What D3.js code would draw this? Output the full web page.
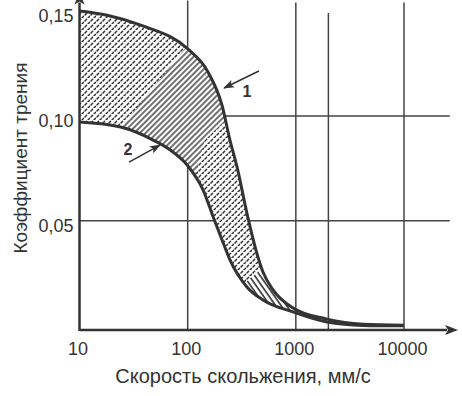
<!DOCTYPE html>
<html>
<head>
<meta charset="utf-8">
<script src="https://cdn.jsdelivr.net/npm/d3@7"></script>
<style>
  body { margin: 0; background: #fff; }
  text { font-family: "Liberation Sans", Arial, sans-serif; fill: #333; }
</style>
</head>
<body>
<div id="chart"></div>
<script>
// values
var speedTicks = [10, 100, 1000, 10000];
var coefTicks = [0.05, 0.10, 0.15];
var gridSpeeds = [100, 1000, 2000, 10000];
var gridTops = [0.155, 0.154, 0.149, 0.154];
var gridCoefs = [0.05, 0.10];

// curve 1 (upper)
var curve1Speed = [10, 18, 38, 100, 154, 208, 246, 286, 361, 428, 497, 615, 942, 1940, 4180, 10000];
var curve1Coef = [0.150, 0.148, 0.143, 0.132, 0.121, 0.105, 0.0885, 0.0757, 0.0514, 0.0361, 0.0256, 0.0171, 0.0085, 0.0032, 0.0008, 0.0003];
// curve 2 (lower)
var curve2Speed = [10, 24, 48, 69, 99, 139, 175, 208, 246, 353, 497, 942, 1940, 4180, 10000];
var curve2Coef = [0.0971, 0.0947, 0.0885, 0.0838, 0.0766, 0.0647, 0.0509, 0.0409, 0.0314, 0.0185, 0.0123, 0.0066, 0.0018, 0.0002, 0.0];

// hatched zones inside the band
var hatchASpeed = [21.3, 130, 339, 257, 145, 117];
var hatchACoef = [0.0909, 0.141, 0.1267, 0.1004, 0.0885, 0.0719];
var hatchBSpeed = [290, 560, 1672, 2070, 290];
var hatchBCoef = [0.0175, 0.0300, 0.0123, -0.004, -0.004];

// labels / arrows
var labels = ["1", "2"];
var labelSpeed = [353, 28];
var labelCoef = [0.109, 0.0814];
var arrowFromSpeed = [456, 28.7];
var arrowFromCoef = [0.1214, 0.078];
var arrowToSpeed = [217, 55.5];
var arrowToCoef = [0.1133, 0.0861];

var svgWidth = 462, svgHeight = 396;
var ink = "#333";

var svg = d3.select("#chart").append("svg")
    .attr("width", svgWidth)
    .attr("height", svgHeight);

var x = d3.scaleLog().domain([10, 10000]).range([79.5, 404]);
var y = d3.scaleLinear().domain([-0.002, 0.15]).range([330, 11]);

var c1 = curve1Speed.map((s, i) => ({ s: s, c: curve1Coef[i] }));
var c2 = curve2Speed.map((s, i) => ({ s: s, c: curve2Coef[i] }));

var defs = svg.append("defs");

// dotted fill
var dots = defs.append("pattern").attr("id", "dots")
    .attr("patternUnits", "userSpaceOnUse")
    .attr("width", 6).attr("height", 6);
dots.append("path").attr("d", "M1,3 L2.6,1.3 M4,6 L5.6,4.3")
    .attr("stroke", "#333").attr("stroke-width", 1.5).attr("stroke-linecap", "round");

// "/" hatch
var hatch = defs.append("pattern").attr("id", "hatch")
    .attr("patternUnits", "userSpaceOnUse")
    .attr("width", 4).attr("height", 10)
    .attr("patternTransform", "rotate(45)");
hatch.append("rect").attr("width", 4).attr("height", 10).attr("fill", "#fff");
hatch.append("line").attr("x1", 1).attr("y1", 0).attr("x2", 1).attr("y2", 10)
    .attr("stroke", "#333").attr("stroke-width", 1.4);

// "\" hatch
var hatch2 = defs.append("pattern").attr("id", "hatch2")
    .attr("patternUnits", "userSpaceOnUse")
    .attr("width", 4.5).attr("height", 10)
    .attr("patternTransform", "rotate(-35)");
hatch2.append("rect").attr("width", 4.5).attr("height", 10).attr("fill", "#fff");
hatch2.append("line").attr("x1", 1).attr("y1", 0).attr("x2", 1).attr("y2", 10)
    .attr("stroke", "#333").attr("stroke-width", 1.6);

// arrow markers
defs.append("marker").attr("id", "axisArrow")
    .attr("markerUnits", "userSpaceOnUse")
    .attr("viewBox", "0 -6 14 12")
    .attr("refX", 2).attr("refY", 0)
    .attr("markerWidth", 14).attr("markerHeight", 12)
    .attr("orient", "auto")
  .append("path").attr("d", "M0,-5 L13,0 L0,5 L3,0 Z").attr("fill", ink);

defs.append("marker").attr("id", "noteArrow")
    .attr("markerUnits", "userSpaceOnUse")
    .attr("viewBox", "0 -5 12 10")
    .attr("refX", 10).attr("refY", 0)
    .attr("markerWidth", 12).attr("markerHeight", 10)
    .attr("orient", "auto")
  .append("path").attr("d", "M0,-4 L11,0 L0,4 L2.5,0 Z").attr("fill", ink);

var line = d3.line().x(d => x(d.s)).y(d => y(d.c)).curve(d3.curveMonotoneX);

var y0 = y.range()[0], yTop = 0;
defs.append("clipPath").attr("id", "below1")
  .append("path")
    .attr("d", d3.area().x(d => x(d.s)).y0(y0 + 20).y1(d => y(d.c)).curve(d3.curveMonotoneX)(c1));
defs.append("clipPath").attr("id", "above2")
  .append("path")
    .attr("d", d3.area().x(d => x(d.s)).y0(yTop).y1(d => y(d.c)).curve(d3.curveMonotoneX)(c2));

// grid
svg.append("g").selectAll("line").data(gridSpeeds).enter().append("line")
    .attr("x1", d => x(d)).attr("x2", d => x(d))
    .attr("y1", y0).attr("y2", (d, i) => y(gridTops[i]))
    .attr("stroke", "#444").attr("stroke-width", 1.5);

var xEnd = 26500;
svg.append("g").selectAll("line").data(gridCoefs).enter().append("line")
    .attr("x1", x(10)).attr("x2", x(xEnd))
    .attr("y1", d => y(d)).attr("y2", d => y(d))
    .attr("stroke", "#444").attr("stroke-width", 1.5);

// band between the curves
var band = svg.append("g").attr("clip-path", "url(#above2)")
  .append("g").attr("clip-path", "url(#below1)");
band.append("rect")
    .attr("x", x(10)).attr("y", yTop)
    .attr("width", x(10000) - x(10)).attr("height", y0 - yTop)
    .attr("fill", "#fff");
band.append("rect")
    .attr("x", x(10)).attr("y", yTop)
    .attr("width", x(10000) - x(10)).attr("height", y0 - yTop)
    .attr("fill", "url(#dots)");

var poly = d3.line().x(d => x(d[0])).y(d => y(d[1]));
band.append("path")
    .attr("d", poly(hatchASpeed.map((s, i) => [s, hatchACoef[i]])) + "Z")
    .attr("fill", "url(#hatch)");
band.append("path")
    .attr("d", poly(hatchBSpeed.map((s, i) => [s, hatchBCoef[i]])) + "Z")
    .attr("fill", "url(#hatch2)");

// curves
svg.append("path").datum(c1).attr("d", line)
    .attr("fill", "none").attr("stroke", ink).attr("stroke-width", 3);
svg.append("path").datum(c2).attr("d", line)
    .attr("fill", "none").attr("stroke", ink).attr("stroke-width", 3);

// axes lines with arrows
svg.append("line")
    .attr("x1", x(10)).attr("y1", y0)
    .attr("x2", x(25000)).attr("y2", y0)
    .attr("stroke", ink).attr("stroke-width", 2.5)
    .attr("marker-end", "url(#axisArrow)");
svg.append("line")
    .attr("x1", x(10)).attr("y1", y0 + 1)
    .attr("x2", x(10)).attr("y2", y(0.154))
    .attr("stroke", ink).attr("stroke-width", 2.5)
    .attr("marker-end", "url(#axisArrow)");

// tick labels via d3 axes
var xAxis = d3.axisBottom(x).tickValues(speedTicks).tickFormat(d3.format("d"))
    .tickSize(0).tickPadding(12);
var gx = svg.append("g").attr("transform", "translate(0," + y0 + ")").call(xAxis);
gx.select(".domain").remove();
gx.selectAll("text").attr("font-size", 18).attr("fill", "#333")
    .attr("font-family", "'Liberation Sans', Arial, sans-serif").attr("dx", "-2");

var yAxis = d3.axisLeft(y).tickValues(coefTicks)
    .tickFormat(d => d.toFixed(2).replace(".", ","))
    .tickSize(0).tickPadding(6);
var gy = svg.append("g").attr("transform", "translate(" + x(10) + ",0)").call(yAxis);
gy.select(".domain").remove();
gy.selectAll("text").attr("font-size", 18).attr("fill", "#333")
    .attr("font-family", "'Liberation Sans', Arial, sans-serif").attr("dy", "0.6em");

// axis titles
svg.append("text")
    .attr("x", 243).attr("y", 383)
    .attr("text-anchor", "middle")
    .attr("font-size", 20)
    .text("Скорость скольжения, мм/с");

svg.append("text")
    .attr("transform", "translate(27,158) rotate(-90)")
    .attr("text-anchor", "middle")
    .attr("font-size", 19)
    .text("Коэффициент трения");

// curve labels and pointer arrows
svg.append("g").selectAll("line").data(labels).enter().append("line")
    .attr("x1", (d, i) => x(arrowFromSpeed[i])).attr("y1", (d, i) => y(arrowFromCoef[i]))
    .attr("x2", (d, i) => x(arrowToSpeed[i])).attr("y2", (d, i) => y(arrowToCoef[i]))
    .attr("stroke", ink).attr("stroke-width", 1.5)
    .attr("marker-end", "url(#noteArrow)");

svg.append("g").selectAll("text").data(labels).enter().append("text")
    .attr("x", (d, i) => x(labelSpeed[i])).attr("y", (d, i) => y(labelCoef[i]))
    .attr("text-anchor", "middle")
    .attr("font-size", 16).attr("font-weight", "bold")
    .text(d => d);
</script>
</body>
</html>
